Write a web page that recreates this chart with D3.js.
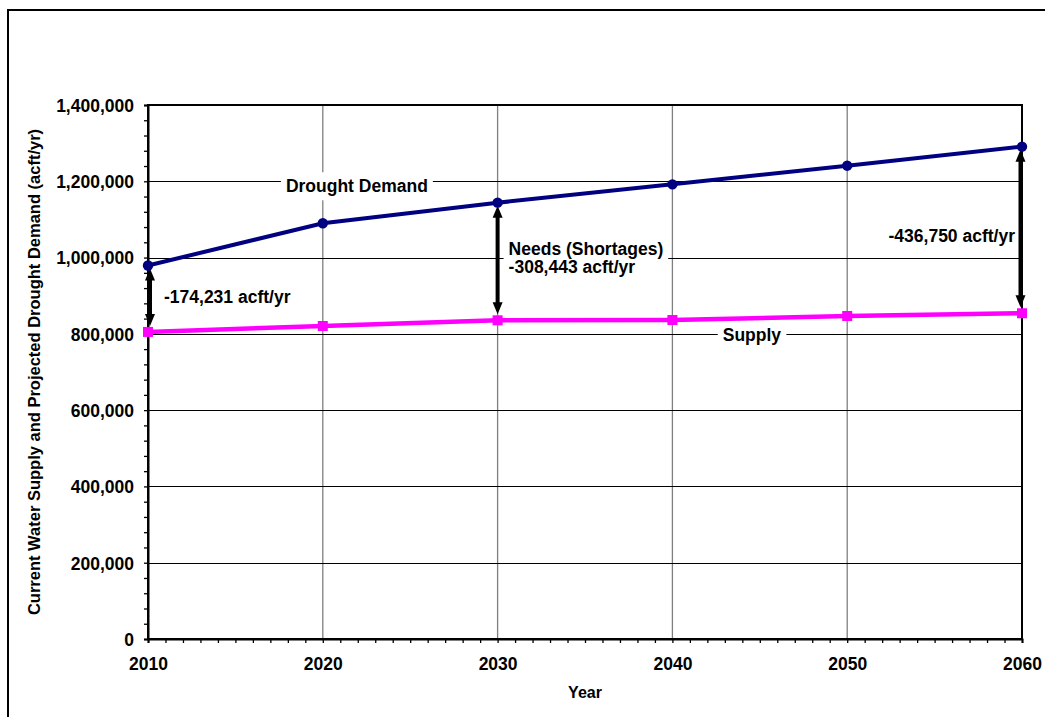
<!DOCTYPE html>
<html>
<head>
<meta charset="utf-8">
<script src="https://cdn.jsdelivr.net/npm/d3@7"></script>
<style>
  html, body { margin: 0; padding: 0; background: #fff; }
  svg { display: block; font-family: "Liberation Sans", Arial, sans-serif; font-weight: bold; }
</style>
</head>
<body>
<svg id="chart" width="1045" height="717"></svg>
<script>
// Years shown on the horizontal axis
const years = [2010, 2020, 2030, 2040, 2050, 2060];
// Projected drought demand (acft/yr)
const demand = [979231, 1090000, 1143943, 1192000, 1240900, 1290750];
// Current water supply (acft/yr)
const supply = [805000, 820600, 835500, 836300, 846800, 854000];
// Years where the shortage is called out
const needYears = [2010, 2030, 2060];
// Y axis tick values
const yTicks = [0, 200000, 400000, 600000, 800000, 1000000, 1200000, 1400000];

const svg = d3.select("#chart");
const W = 1045, H = 717;
const plot = { left: 148, right: 1022, top: 105, bottom: 639 };

const x = d3.scaleLinear().domain([2010, 2060]).range([plot.left, plot.right]);
const y = d3.scaleLinear().domain([0, 1400000]).range([plot.bottom, plot.top]);
// plain hyphen for negative numbers
const locale = d3.formatLocale({ decimal: ".", thousands: ",", grouping: [3], currency: ["$", ""], minus: "-" });
const fmt = locale.format(",");

const FS = 17.5;

// outer frame
svg.append("rect")
  .attr("x", 8).attr("y", 10).attr("width", W + 10).attr("height", H + 10)
  .attr("fill", "#fff").attr("stroke", "#000").attr("stroke-width", 2);

// vertical grid (gray)
svg.append("g").selectAll("line")
  .data(years.slice(1, -1)).join("line")
  .attr("x1", d => x(d)).attr("x2", d => x(d))
  .attr("y1", plot.top).attr("y2", plot.bottom)
  .attr("stroke", "#7f7f7f").attr("stroke-width", 1.3);

// horizontal grid (black)
svg.append("g").selectAll("line")
  .data(yTicks.slice(1, -1)).join("line")
  .attr("x1", plot.left).attr("x2", plot.right)
  .attr("y1", d => Math.round(y(d)) + 0.5).attr("y2", d => Math.round(y(d)) + 0.5)
  .attr("stroke", "#000").attr("stroke-width", 1);

// plot border
svg.append("rect")
  .attr("x", plot.left).attr("y", plot.top)
  .attr("width", plot.right - plot.left).attr("height", plot.bottom - plot.top)
  .attr("fill", "none").attr("stroke", "#000").attr("stroke-width", 2);

// Y axis with minor ticks every 40,000
const yAxis = d3.axisLeft(y)
  .tickValues(d3.range(0, 1400001, 40000))
  .tickSize(4)
  .tickFormat(d => yTicks.includes(d) ? fmt(d) : "");
const gy = svg.append("g").attr("transform", `translate(${plot.left},0)`).call(yAxis);
gy.select(".domain").attr("stroke-width", 2);
gy.selectAll(".tick line").attr("stroke-width", 1.3);
gy.selectAll(".tick text")
  .attr("x", -14).attr("dy", "0.36em")
  .attr("font-size", FS).attr("font-family", "Liberation Sans, Arial, sans-serif")
  .attr("font-weight", "bold").attr("fill", "#000");

// X axis with minor ticks every year
const xAxis = d3.axisBottom(x)
  .tickValues(d3.range(2010, 2061, 1))
  .tickSize(4)
  .tickFormat(d => years.includes(d) ? String(d) : "");
const gx = svg.append("g").attr("transform", `translate(0,${plot.bottom})`).call(xAxis);
gx.select(".domain").attr("stroke-width", 2);
gx.selectAll(".tick line").attr("stroke-width", 1.3);
gx.selectAll(".tick text")
  .attr("y", 19).attr("dy", "0.71em")
  .attr("font-size", FS).attr("font-family", "Liberation Sans, Arial, sans-serif")
  .attr("font-weight", "bold").attr("fill", "#000");

// axis titles
svg.append("text")
  .attr("x", (plot.left + plot.right) / 2).attr("y", 698)
  .attr("text-anchor", "middle").attr("font-size", 16)
  .text("Year");
svg.append("text")
  .attr("transform", `translate(40,${(plot.top + plot.bottom) / 2}) rotate(-90)`)
  .attr("text-anchor", "middle").attr("font-size", 16.5)
  .text("Current Water Supply and Projected Drought Demand (acft/yr)");

// labels with white background
function boxedLabel(lines, px, py, anchor, size, padX, padY, lineGap) {
  const g = svg.append("g");
  const bg = g.append("rect").attr("fill", "#fff");
  const t = g.append("text").attr("font-size", size).attr("text-anchor", anchor);
  lines.forEach((s, i) => {
    t.append("tspan").attr("x", px).attr("y", py + i * lineGap).text(s);
  });
  const b = t.node().getBBox();
  bg.attr("x", b.x - padX).attr("y", b.y - padY)
    .attr("width", b.width + 2 * padX).attr("height", b.height + 2 * padY);
  return g;
}

boxedLabel(["Drought Demand"], x(2021.95), y(1200000) + 11, "middle", FS, 5, 4, 0);
boxedLabel(["Supply"], x(2044.55), y(800000) + 7, "middle", FS, 5, 3, 0);

// shortage arrows
const arrowHead = 12, arrowHalf = 5;
needYears.forEach(yr => {
  const i = years.indexOf(yr);
  const ax = Math.min(Math.max(x(yr), plot.left + 2), plot.right - 1.5);
  const y1 = y(demand[i]) + 3;
  const y2 = y(supply[i]) - 6;
  svg.append("line")
    .attr("x1", ax).attr("x2", ax)
    .attr("y1", y1 + arrowHead - 2).attr("y2", y2 - arrowHead + 2)
    .attr("stroke", "#000").attr("stroke-width", 4);
  svg.append("path")
    .attr("d", `M${ax},${y1} L${ax - arrowHalf},${y1 + arrowHead} L${ax + arrowHalf},${y1 + arrowHead} Z`)
    .attr("fill", "#000");
  svg.append("path")
    .attr("d", `M${ax},${y2} L${ax - arrowHalf},${y2 - arrowHead} L${ax + arrowHalf},${y2 - arrowHead} Z`)
    .attr("fill", "#000");
});

// shortage labels
const need = needYears.map(yr => {
  const i = years.indexOf(yr);
  return demand[i] - supply[i];
});
svg.append("text").attr("x", x(2010) + 16).attr("y", y(880000))
  .attr("font-size", FS).text(fmt(-need[0]) + " acft/yr");
boxedLabel(["Needs (Shortages)", fmt(-need[1]) + " acft/yr"],
  x(2030) + 11, y(1000000) - 3, "start", FS, 5, 4, 18);
svg.append("text").attr("x", x(2060) - 7).attr("y", y(1042000))
  .attr("text-anchor", "end").attr("font-size", FS).text(fmt(-need[2]) + " acft/yr");

// series lines
const line = d3.line().x((d, i) => x(years[i])).y(d => y(d));
svg.append("path").datum(supply).attr("d", line)
  .attr("fill", "none").attr("stroke", "#ff00ff").attr("stroke-width", 4.5);
svg.append("path").datum(demand).attr("d", line)
  .attr("fill", "none").attr("stroke", "#000080").attr("stroke-width", 4);

// markers
svg.append("g").selectAll("rect").data(supply).join("rect")
  .attr("x", (d, i) => x(years[i]) - 5).attr("y", d => y(d) - 5)
  .attr("width", 10).attr("height", 10).attr("fill", "#ff00ff");
svg.append("g").selectAll("circle").data(demand).join("circle")
  .attr("cx", (d, i) => x(years[i])).attr("cy", d => y(d))
  .attr("r", 5.2).attr("fill", "#000080");
</script>
</body>
</html>
